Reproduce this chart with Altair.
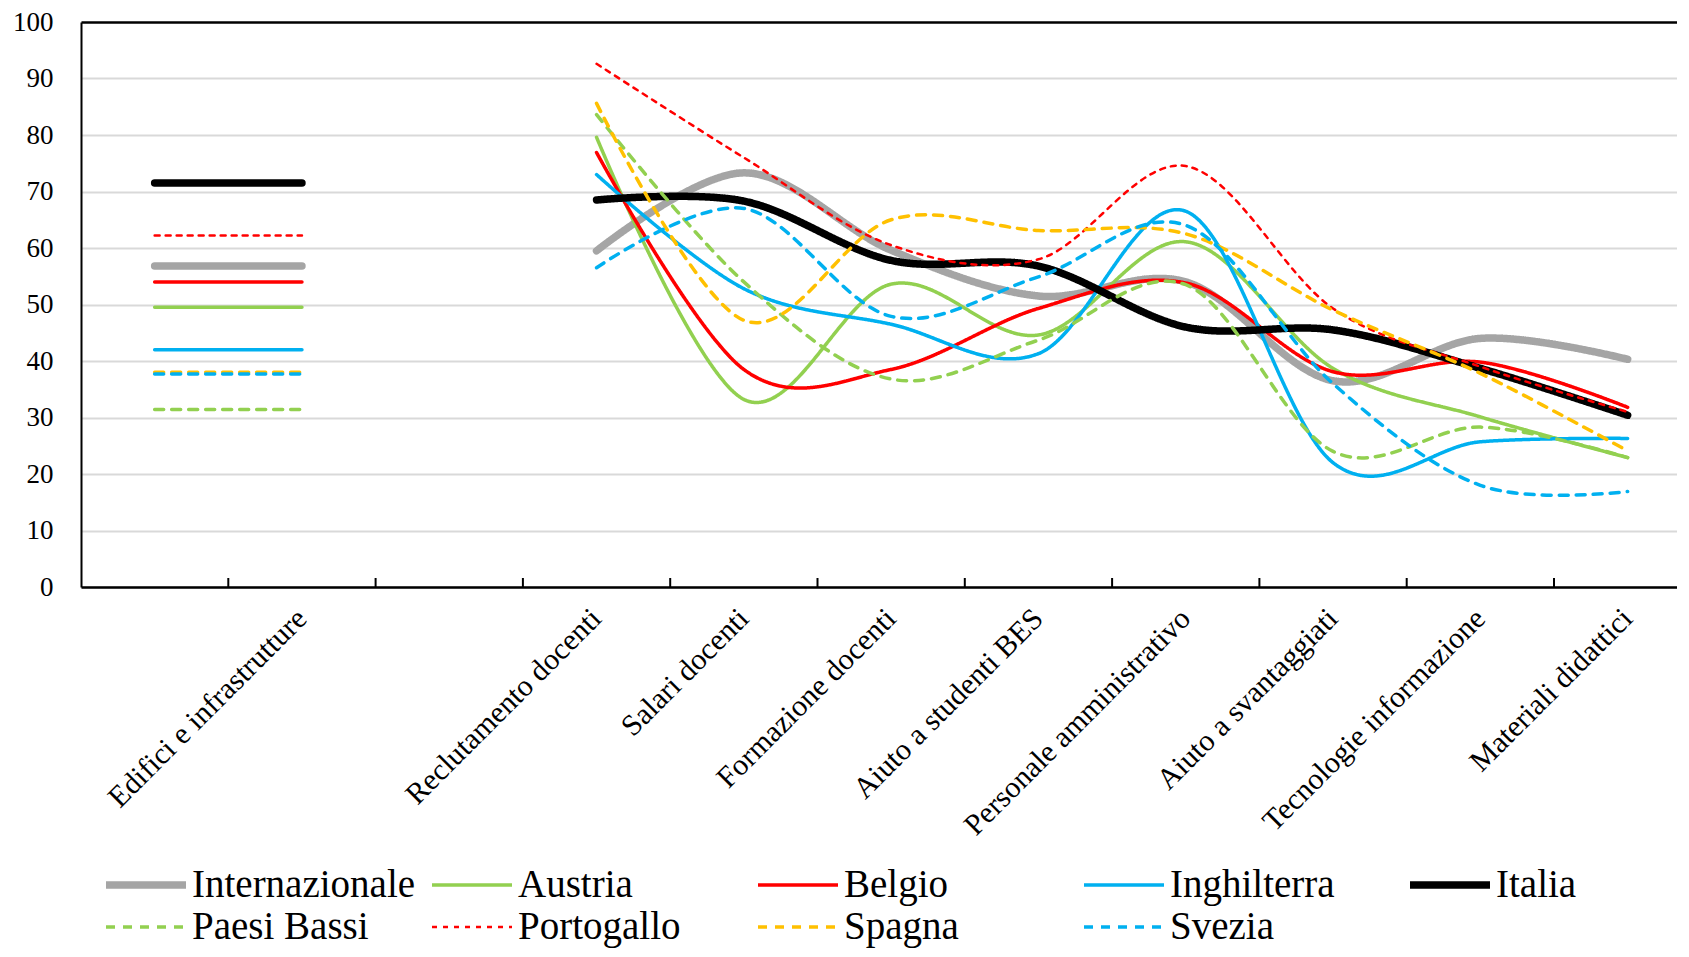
import altair as alt
import pandas as pd

categories = ["", "Edifici e infrastrutture", "", "Reclutamento docenti", "Salari docenti",
              "Formazione docenti", "Aiuto a studenti BES", "Personale amministrativo",
              "Aiuto a svantaggiati", "Tecnologie informazione", "Materiali didattici"]

series = ["Internazionale", "Austria", "Belgio", "Inghilterra", "Italia",
          "Paesi Bassi", "Portogallo", "Spagna", "Svezia"]

# value of "Edifici e infrastrutture" per series (drawn as a flat segment)
edifici = [56.8, 49.5, 54.0, 42.0, 71.5, 31.4, 62.2, 38.0, 37.7]

# values for "Reclutamento docenti" ... "Materiali didattici"
internazionale = [59.5, 73.3, 59.6, 51.5, 54.0, 36.5, 44.0, 40.3]
austria = [79.6, 33.2, 53.6, 44.6, 61.1, 38.7, 30.1, 22.9]
belgio = [76.9, 38.5, 38.5, 49.3, 53.8, 38.1, 39.8, 31.8]
inghilterra = [73.0, 52.8, 46.5, 41.3, 66.5, 22.0, 25.7, 26.3]
italia = [68.5, 68.3, 57.8, 56.8, 46.0, 45.5, 38.7, 30.4]
paesi_bassi = [83.6, 54.0, 36.8, 43.7, 53.5, 24.0, 28.3, 22.9]
portogallo = [92.6, 76.0, 60.5, 58.0, 74.5, 49.3, 39.0, 31.0]
spagna = [85.6, 47.2, 65.0, 63.1, 62.5, 49.0, 37.8, 24.1]
svezia = [56.5, 67.0, 47.9, 54.9, 64.0, 36.0, 18.0, 16.9]

curves = [internazionale, austria, belgio, inghilterra, italia,
          paesi_bassi, portogallo, spagna, svezia]

colors = ["#a5a5a5", "#92d050", "#ff0000", "#00b0f0", "#000000",
          "#92d050", "#ff0000", "#ffc000", "#00b0f0"]
widths = [7.5, 3.5, 3.5, 3.5, 7.5, 3.5, 2.5, 3.5, 3.5]
dashes = [[1, 0], [1, 0], [1, 0], [1, 0], [1, 0], [9, 8], [5, 6], [9, 8], [9, 8]]

y_ticks = list(range(0, 101, 10))
boundary_ticks = [0.5, 1.5, 2.5, 3.5, 4.5, 5.5, 6.5, 7.5, 8.5, 9.5]
label_positions = [i for i, c in enumerate(categories) if c]

rows = []
for s, e, vals in zip(series, edifici, curves):
    rows.append({"series": s, "part": "edifici", "pos": 0, "value": e})
    rows.append({"series": s, "part": "edifici", "pos": 1, "value": e})
    for j, v in enumerate(vals):
        rows.append({"series": s, "part": "curve", "pos": 3 + j, "value": v})
df = pd.DataFrame(rows)
ticks_df = pd.DataFrame({"pos": boundary_ticks})

FONT = "Liberation Serif"
W, H = 1596, 565
x_max = -0.5 + W / 147.3

label_array = "[" + ",".join("'" + c + "'" for c in categories) + "]"

xscale = alt.Scale(domain=[-0.5, x_max], nice=False, zero=False)
x_axis = alt.Axis(
    values=label_positions, labelExpr=label_array + "[datum.value]",
    labelAngle=-45, labelAlign="right", labelBaseline="top",
    labelFont=FONT, labelFontSize=30, labelColor="black",
    labelPadding=16, labelOffset=-11, labelOverlap=False, labelFlush=False,
    labelBound=False, labelLimit=600, ticks=False, tickSize=0, grid=False,
    domainColor="black", domainWidth=2.5, title=None)

legend = alt.Legend(
    title=None, orient="none", legendX=21, legendY=842, direction="horizontal",
    columns=5, symbolType="stroke", symbolSize=6400, labelFont=FONT,
    labelFontSize=39, labelColor="black", labelLimit=500, labelOffset=2,
    columnPadding=12, rowPadding=0, clipHeight=42, gridAlign="all", padding=0,
)

lines = alt.Chart(df).mark_line(
    interpolate="cardinal", strokeCap="round", strokeJoin="round"
).encode(
    x=alt.X("pos:Q", scale=xscale, axis=x_axis),
    y=alt.Y("value:Q", scale=alt.Scale(domain=[0, 100], nice=False), axis=alt.Axis(
        values=y_ticks, labelFont=FONT, labelFontSize=27, labelColor="black",
        labelPadding=28, ticks=False, tickSize=0, domainColor="black",
        domainWidth=2, grid=True,
        gridColor={"condition": {"test": "datum.value === 100", "value": "black"}, "value": "#d9d9d9"},
        gridWidth={"condition": {"test": "datum.value === 100", "value": 2.5}, "value": 2},
        title=None)),
    color=alt.Color("series:N", scale=alt.Scale(domain=series, range=colors), legend=legend),
    strokeDash=alt.StrokeDash("series:N", scale=alt.Scale(domain=series, range=dashes), legend=legend),
    strokeWidth=alt.StrokeWidth("series:N", scale=alt.Scale(type="ordinal", domain=series, range=widths), legend=legend),
    detail="part:N",
)

rules = alt.Chart(ticks_df).mark_rule(color="black", strokeWidth=2).encode(
    x=alt.X("pos:Q", scale=xscale, axis=x_axis),
    y=alt.value(H - 9),
    y2=alt.value(H),
)

chart = alt.layer(lines, rules).properties(
    width=W, height=H,
    padding={"left": 73, "top": 14, "right": 0, "bottom": 362},
    autosize=alt.AutoSizeParams(type="none"),
    background="white",
).configure_view(stroke=None)

chart.save("out.html", embed_options={"renderer": "svg", "actions": False})
